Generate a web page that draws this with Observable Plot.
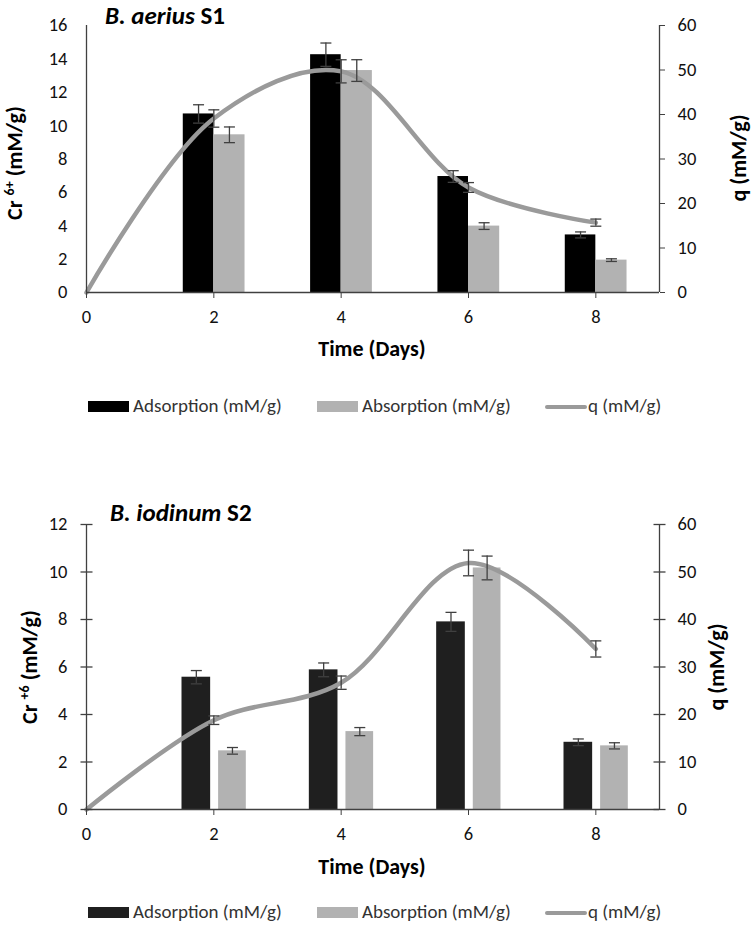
<!DOCTYPE html>
<html><head><meta charset="utf-8">
<script src="https://cdn.jsdelivr.net/npm/d3@7"></script>
<script src="https://cdn.jsdelivr.net/npm/@observablehq/plot@0.6"></script>
<style>
body{margin:0;background:#fff;}
#root{position:relative;width:754px;height:925px;font-family:Carlito,Lato,sans-serif;overflow:hidden;}
.chart{position:absolute;left:0;}
.legend{position:absolute;left:0;width:754px;height:20px;font-size:19px;color:#333;}
.legend .sw{position:absolute;}
.legend .tx{position:absolute;top:-1px;line-height:20px;white-space:nowrap;}
</style></head><body><div id="root"></div>
<script>
// ---- data ----
const days = [2, 4, 6, 8];
const lineDays = [0, 2, 4, 6, 8];
const xTicks = [0, 2, 4, 6, 8];
const qTicks = [0, 10, 20, 30, 40, 50, 60];
const seriesNames = ["Adsorption (mM/g)", "Absorption (mM/g)", "q (mM/g)"];

// B. aerius S1
const s1Adsorption    = [10.7, 14.25, 6.95, 3.45];
const s1AdsorptionErr = [0.55, 0.7, 0.35, 0.18];
const s1Absorption    = [9.45, 13.3, 3.98, 1.94];
const s1AbsorptionErr = [0.47, 0.65, 0.2, 0.08];
const s1Q             = [0, 39.1, 49.7, 23.6, 15.7];
const s1QErr          = [null, 1.95, 2.6, 1.1, 0.8];

// B. iodinum S2
const s2Adsorption    = [5.57, 5.88, 7.9, 2.83];
const s2AdsorptionErr = [0.28, 0.29, 0.4, 0.14];
const s2Absorption    = [2.47, 3.28, 10.17, 2.68];
const s2AbsorptionErr = [0.14, 0.17, 0.5, 0.13];
const s2Q             = [0, 18.8, 26.7, 51.9, 33.8];
const s2QErr          = [null, 0.9, 1.4, 2.7, 1.7];

// ---- drawing ----
const FONT = "Carlito, Lato, sans-serif";
const hline = {draw(ctx, size){ const r = Math.sqrt(size/Math.PI); ctx.moveTo(-r,0); ctx.lineTo(r,0); }};
const AX = "#404040";

function chart(o){
  const k = o.yMax / 60;
  const ads = days.map((d,i)=>({day:d, v:o.ads[i], e:o.adsErr[i]}));
  const abs = days.map((d,i)=>({day:d, v:o.abs[i], e:o.absErr[i]}));
  const q = lineDays.map((d,i)=>({day:d, q:o.q[i]*k, e:o.qErr[i]==null?null:o.qErr[i]*k}));
  const errs = [
    ...ads.map(d=>({x:d.day+(o.adsX[0]+o.adsX[1])/2, y:d.v, e:d.e})),
    ...abs.map(d=>({x:d.day+(o.absX[0]+o.absX[1])/2, y:d.v, e:d.e})),
    ...q.filter(d=>d.e!=null).map(d=>({x:d.day, y:d.q, e:d.e}))
  ];
  const leftTicks = d3.range(0, o.yMax + 0.001, 2);
  const rightTicks = qTicks.map(v=>v*k);
  const marks = [
    Plot.rectY(ads, {x1:d=>d.day+o.adsX[0], x2:d=>d.day+o.adsX[1], y1:0, y2:"v", fill:o.adsColor}),
    Plot.rectY(abs, {x1:d=>d.day+o.absX[0], x2:d=>d.day+o.absX[1], y1:0, y2:"v", fill:"#b2b2b2"}),
    Plot.line(q, {x:"day", y:"q", curve:"catmull-rom", stroke:"#9a9a9a", strokeWidth:4.5}),
    Plot.ruleX(errs, {x:"x", y1:d=>d.y-d.e, y2:d=>d.y+d.e, stroke:AX, strokeWidth:1.3}),
    Plot.dot(errs, {x:"x", y:d=>d.y-d.e, symbol:hline, r:5.5, stroke:AX, strokeWidth:1.3}),
    Plot.dot(errs, {x:"x", y:d=>d.y+d.e, symbol:hline, r:5.5, stroke:AX, strokeWidth:1.3}),
    Plot.ruleY([0], {stroke:AX, strokeWidth:1.3}),
    Plot.ruleX([0], {stroke:AX, strokeWidth:1.3}),
    Plot.ruleX([9], {stroke:AX, strokeWidth:1.3}),
    Plot.axisX({ticks:xTicks, tickSize:6, tickPadding:11, tickFormat:d=>d, label:null, stroke:AX}),
    Plot.axisY({anchor:"left", ticks:leftTicks, tickSize:0, tickPadding:19, tickFormat:d=>d, label:null}),
    Plot.axisY({anchor:"right", ticks:rightTicks, tickFormat:v=>Math.round(v/k), tickSize:o.crossTicks?0:5, tickPadding:o.crossTicks?18:13, label:null, stroke:AX})
  ];
  if (o.crossTicks) {
    marks.push(Plot.dot(leftTicks, {x:0, y:d=>d, symbol:hline, r:6, stroke:AX, strokeWidth:1.3}));
    marks.push(Plot.dot(rightTicks, {x:9, y:d=>d, symbol:hline, r:6, stroke:AX, strokeWidth:1.3}));
  }
  const svg = Plot.plot({
    width:754, height:o.height,
    marginLeft:86, marginRight:95, marginTop:o.mt, marginBottom:o.mb,
    x:{domain:[0,9]}, y:{domain:[0,o.yMax]},
    style:{fontFamily:FONT, fontSize:"18.5px", color:"#111", background:"transparent", overflow:"visible"},
    marks
  });
  const s = d3.select(svg);
  // title
  const t = s.append("text").attr("x", o.titleX).attr("y", o.titleY).attr("text-anchor","start")
    .attr("font-family", FONT).attr("font-size", 25).attr("font-weight", "bold").attr("fill", "#000");
  t.append("tspan").attr("font-style","italic").text(o.titleItalic);
  t.append("tspan").text(" " + o.titleRest);
  // left y label
  const yl = s.append("text").attr("transform", `translate(${o.ylX},${o.ylY}) rotate(-90)`)
    .attr("text-anchor","middle").attr("font-family", FONT).attr("font-size", 22).attr("font-weight","bold").attr("fill","#000");
  yl.append("tspan").text("Cr ");
  yl.append("tspan").attr("font-size", 14).attr("dy", -8).text(o.sup);
  yl.append("tspan").attr("dy", 8).text(" (mM/g)");
  // right y label
  s.append("text").attr("transform", `translate(${o.yrX},${o.yrY}) rotate(-90)`)
    .attr("text-anchor","middle").attr("font-family", FONT).attr("font-size", 22).attr("font-weight","bold").attr("fill","#000")
    .text("q (mM/g)");
  // x label
  s.append("text").attr("x", 372).attr("y", o.xlY).attr("text-anchor","middle")
    .attr("font-family", FONT).attr("font-size", 22).attr("font-weight","bold").attr("fill","#000")
    .text("Time (Days)");
  return svg;
}

function legend(top, adsColor){
  const div = document.createElement("div");
  div.className = "legend";
  div.style.top = top + "px";
  div.innerHTML =
    `<div class="sw" style="left:88px;top:4px;width:41px;height:11px;background:${adsColor}"></div>` +
    `<div class="tx" style="left:133px">${seriesNames[0]}</div>` +
    `<div class="sw" style="left:317px;top:4px;width:41px;height:11px;background:#b2b2b2"></div>` +
    `<div class="tx" style="left:362px">${seriesNames[1]}</div>` +
    `<div class="sw" style="left:545px;top:8px;width:42px;height:4px;border-radius:2px;background:#9a9a9a"></div>` +
    `<div class="tx" style="left:588px">${seriesNames[2]}</div>`;
  return div;
}

const root = document.getElementById("root");

const c1 = chart({
  height:370, mt:25, mb:78, yMax:16,
  ads:s1Adsorption, adsErr:s1AdsorptionErr, abs:s1Absorption, absErr:s1AbsorptionErr, q:s1Q, qErr:s1QErr,
  adsX:[-0.48, 0], absX:[0, 0.49], adsColor:"#000000", crossTicks:false,
  titleX:105, titleY:24, titleItalic:"B. aerius", titleRest:"S1",
  ylX:22, ylY:163, sup:"6+",
  yrX:746, yrY:158, xlY:356
});
c1.classList.add("chart"); c1.style.top = "0px";
root.appendChild(c1);
root.appendChild(legend(397, "#000000"));

const c2 = chart({
  height:410, mt:54, mb:71, yMax:12,
  ads:s2Adsorption, adsErr:s2AdsorptionErr, abs:s2Absorption, absErr:s2AbsorptionErr, q:s2Q, qErr:s2QErr,
  adsX:[-0.5, -0.05], absX:[0.075, 0.51], adsColor:"#1f1f1f", crossTicks:true,
  titleX:110, titleY:51, titleItalic:"B. iodinum", titleRest:"S2",
  ylX:37, ylY:197, sup:"+6",
  yrX:724, yrY:197, xlY:404
});
c2.classList.add("chart"); c2.style.top = "470px";
root.appendChild(c2);
root.appendChild(legend(903, "#1f1f1f"));
</script>
</body></html>
